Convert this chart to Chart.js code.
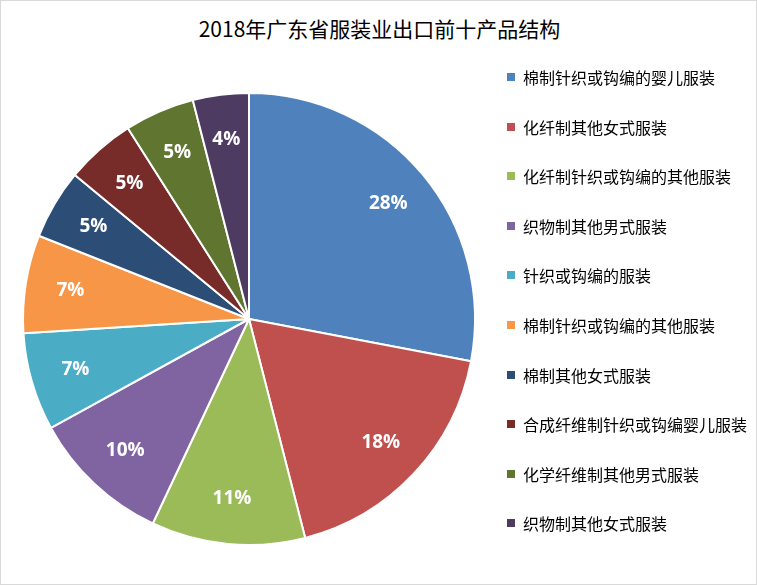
<!DOCTYPE html>
<html><head><meta charset="utf-8">
<script src="https://cdn.jsdelivr.net/npm/chart.js@4"></script>
<style>
  body { margin: 0; background: #fff; font-family: "Noto Sans CJK SC", sans-serif; }
  #wrap { position: relative; width: 755px; height: 583px; border: 1px solid #d9d9d9; }
  #title { position: absolute; top: 12px; left: 0; width: 757px; text-align: center; font-size: 21px; color: #000; }
  canvas { position: absolute; left: 0; top: 0; }
  #legend { position: absolute; left: 506px; top: 66px; width: 240px; font-size: 16px; color: #000; }
  .item { height: 49.6px; display: flex; align-items: flex-start; line-height: 20px; }
  .sw { width: 8px; height: 8px; margin: 6px 8px 0 0; flex: none; }
</style></head>
<body>
<div id="wrap">
  <div id="title">2018年广东省服装业出口前十产品结构</div>
  <canvas id="c" width="757" height="585"></canvas>
  <div id="legend"></div>
</div>
<script>
// 2018 Guangdong apparel export, top-ten product shares (%)
const labels = ["棉制针织或钩编的婴儿服装", "化纤制其他女式服装", "化纤制针织或钩编的其他服装",
  "织物制其他男式服装", "针织或钩编的服装", "棉制针织或钩编的其他服装", "棉制其他女式服装",
  "合成纤维制针织或钩编婴儿服装", "化学纤维制其他男式服装", "织物制其他女式服装"];
const shares = [28, 18, 11, 10, 7, 7, 5, 5, 5, 4];
const colors = ["#4F81BD", "#C0504D", "#9BBB59", "#8064A2", "#4BACC6", "#F79646",
  "#2C4D75", "#772C2A", "#5F7530", "#4D3B62"];

document.getElementById("legend").innerHTML = labels
  .map((l, i) => `<div class="item"><span class="sw" style="background:${colors[i]}"></span><span>${l}</span></div>`)
  .join("");

const pctLabels = {
  id: "pctLabels",
  afterDatasetsDraw(chart) {
    const ctx = chart.ctx;
    ctx.save();
    ctx.font = "bold 19px 'Open Sans', 'DejaVu Sans', sans-serif";
    ctx.fillStyle = "#fff";
    ctx.textAlign = "center";
    ctx.textBaseline = "middle";
    chart.getDatasetMeta(0).data.forEach((arc, i) => {
      const p = arc.getProps(["x", "y", "startAngle", "endAngle", "outerRadius"], true);
      const a = (p.startAngle + p.endAngle) / 2;
      const r = p.outerRadius * 0.8;
      ctx.fillText(shares[i] + "%", p.x + Math.cos(a) * r, p.y + Math.sin(a) * r);
    });
    ctx.restore();
  },
};

new Chart(document.getElementById("c"), {
  type: "pie",
  data: { labels, datasets: [{ data: shares, backgroundColor: colors, borderColor: "#fff", borderWidth: 2 }] },
  options: {
    responsive: false, animation: false,
    layout: { padding: { left: 21, right: 282, top: 91, bottom: 40 } },
    plugins: { legend: { display: false }, tooltip: { enabled: false } },
  },
  plugins: [pctLabels],
});
</script>
</body></html>
